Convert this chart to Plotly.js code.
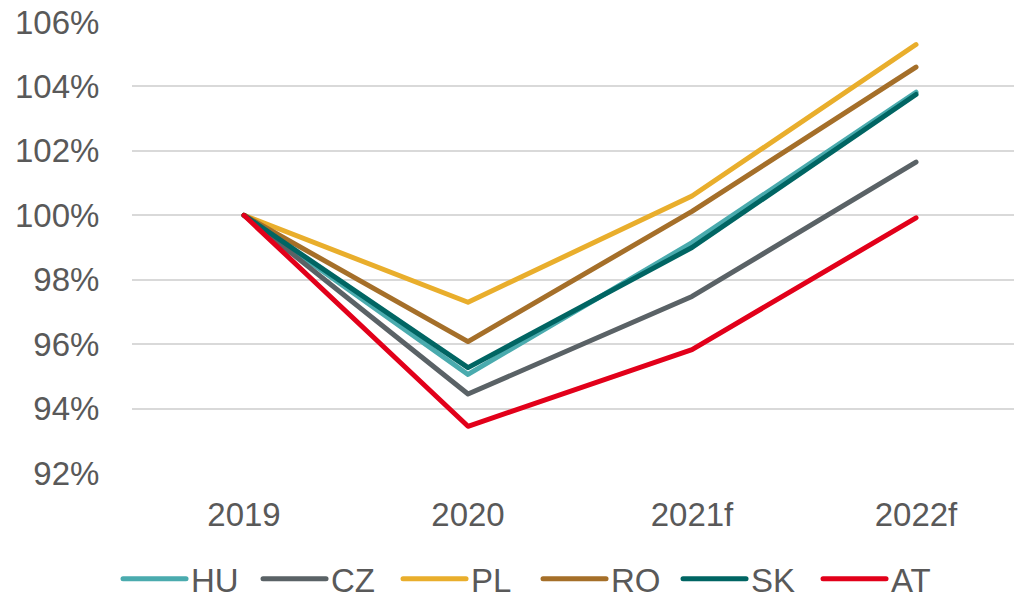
<!DOCTYPE html>
<html>
<head>
<meta charset="utf-8">
<script src="https://cdn.plot.ly/plotly-3.0.1.min.js"></script>
<style>
  html, body { margin: 0; padding: 0; background: #fff; }
  #chart { width: 1014px; height: 596px; }
  .scatterlayer path.js-line, .legendlines path { stroke-linecap: round; stroke-linejoin: round; }
</style>
</head>
<body>
<div id="chart"></div>
<script>
const categories = ['2019', '2020', '2021f', '2022f'];
const seriesNames = ['HU', 'CZ', 'PL', 'RO', 'SK', 'AT'];
const HU = [100, 95.06, 99.15, 103.82];
const CZ = [100, 94.45, 97.48, 101.65];
const PL = [100, 97.30, 100.60, 105.30];
const RO = [100, 96.08, 100.12, 104.60];
const SK = [100, 95.27, 99.00, 103.75];
const AT = [100, 93.45, 95.83, 99.92];
const yTicks = [92, 94, 96, 98, 100, 102, 104, 106];

const values = { HU, CZ, PL, RO, SK, AT };
const colors = { HU: '#4AABAE', CZ: '#5A6266', PL: '#E9AE2C', RO: '#A56F29', SK: '#006563', AT: '#E2001A' };

const traces = seriesNames.map(name => ({
  type: 'scatter',
  mode: 'lines',
  name: name,
  x: categories,
  y: values[name],
  line: { color: colors[name], width: 5 },
  hoverinfo: 'skip'
}));

const font = { family: '"Liberation Sans", Arial, sans-serif', size: 33, color: '#595959' };

const layout = {
  width: 1014,
  height: 596,
  margin: { l: 132, r: 0, t: 22, b: 123, autoexpand: false },
  paper_bgcolor: '#ffffff',
  plot_bgcolor: '#ffffff',
  font: font,
  showlegend: true,
  legend: {
    orientation: 'h',
    xref: 'container', yref: 'container',
    x: 0.1164, xanchor: 'left',
    y: 0.029, yanchor: 'middle',
    font: font,
    itemwidth: 63,
    entrywidth: 62,
    entrywidthmode: 'pixels',
    tracegroupgap: 0,
    itemclick: false
  },
  xaxis: {
    type: 'category',
    range: [-0.5, 3.4375],
    showgrid: false,
    zeroline: false,
    showline: false,
    ticks: 'outside',
    ticklen: 12,
    tickcolor: 'rgba(0,0,0,0)',
    tickfont: font
  },
  yaxis: {
    range: [92, 106],
    tickvals: yTicks,
    ticktext: yTicks.map(v => v + '%'),
    showgrid: true,
    gridcolor: '#D9D9D9',
    gridwidth: 2,
    zeroline: false,
    showline: false,
    ticks: 'outside',
    ticklen: 25,
    tickcolor: 'rgba(0,0,0,0)',
    tickfont: font
  }
};

Plotly.newPlot('chart', traces, layout, { staticPlot: true, displayModeBar: false });
</script>
</body>
</html>
